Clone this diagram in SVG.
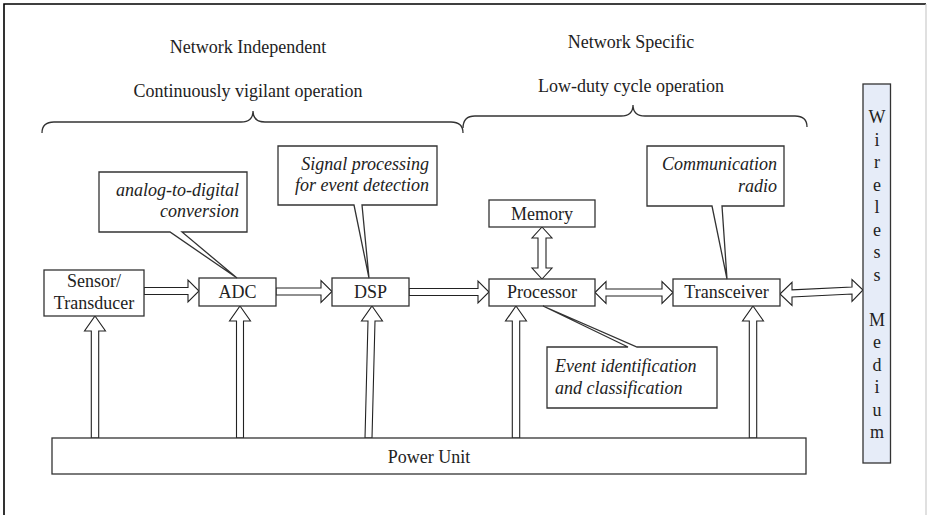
<svg xmlns="http://www.w3.org/2000/svg" width="927" height="515" viewBox="0 0 927 515">
<style>
.box{fill:#fff;stroke:#333;stroke-width:1.3}
.arr{fill:#fff;stroke:#222;stroke-width:1.1;stroke-linejoin:miter}
.t{font-family:'Liberation Serif','DejaVu Serif',serif;font-size:18px;fill:#222}
.c{text-anchor:middle}
.i{font-style:italic}
.r{text-anchor:end}
.brace{fill:none;stroke:#333;stroke-width:1.3}
</style>
<rect x="0" y="0" width="927" height="515" fill="#fff"/>
<path d="M4,515 V4 H926" fill="none" stroke="#000" stroke-width="1.6"/>
<line x1="926" y1="4" x2="926" y2="515" stroke="#ccc" stroke-width="1.2"/>

<g id="labels">
<text class="t c" x="248" y="53">Network Independent</text>
<text class="t c" x="248" y="97">Continuously vigilant operation</text>
<text class="t c" x="631" y="48">Network Specific</text>
<text class="t c" x="631" y="92">Low-duty cycle operation</text>
<path class="brace" d="M42,133 Q42,122 54,122 H241 Q253,122 253,111 Q253,122 265,122 H451 Q463,122 463,133"/>
<path class="brace" d="M463,128 Q463,116 475,116 H621 Q633,116 633,105 Q633,116 645,116 H795 Q807,116 807,127"/>
</g>

<g id="connectors">
<polygon class="arr" points="144,287.5 188,287.5 188,280 199,291 188,302 188,294.5 144,294.5"/>
<polygon class="arr" points="276,288 321,288 321,280.5 332,291.5 321,302.5 321,295 276,295"/>
<polygon class="arr" points="409,288.5 478,288.5 478,281 489,292 478,303 478,295.5 409,295.5"/>
<polygon class="arr" points="595,292.5 606,281.5 606,289 662,289 662,281.5 673,292.5 662,303.5 662,296 606,296 606,303.5"/>
<polygon class="arr" points="780,294 792,282.4 792,289.9 852,287 852,279.5 863,290 852,301.5 852,294 792,296.9 792,305.4"/>
<polygon class="arr" points="542,227 552,238 546,238 546,268 552,268 542,279 532,268 538,268 538,238 532,238"/>
<polygon class="arr" points="95,316 105.5,331 98.7,331 98.7,438 91.3,438 91.3,331 84.5,331"/>
<polygon class="arr" points="240,306 250.5,321 243.5,321 243.5,438 236.5,438 236.5,321 229.5,321"/>
<polygon class="arr" points="372,306 382.5,321 375,321 372,438 365,438 368,321 361.5,321"/>
<polygon class="arr" points="516,306 526.5,321 519.7,321 519.7,438 512.3,438 512.3,321 505.5,321"/>
<polygon class="arr" points="753,306 763.5,321 756.7,321 756.7,438 749.3,438 749.3,321 742.5,321"/>
</g>

<g id="sensor">
<rect class="box" x="44" y="270" width="100" height="46"/>
<text class="t c" x="94" y="287">Sensor/</text>
<text class="t c" x="94" y="309">Transducer</text>
</g>
<g id="adc">
<rect class="box" x="199" y="278" width="77" height="28"/>
<text class="t c" x="237.5" y="298">ADC</text>
</g>
<g id="dsp">
<rect class="box" x="332" y="278" width="77" height="28"/>
<text class="t c" x="370.5" y="298">DSP</text>
</g>
<g id="processor">
<rect class="box" x="489" y="279" width="106" height="27"/>
<text class="t c" x="542" y="298">Processor</text>
</g>
<g id="memory">
<rect class="box" x="489" y="200" width="106" height="27"/>
<text class="t c" x="542" y="220">Memory</text>
</g>
<g id="transceiver">
<rect class="box" x="673" y="279" width="107" height="27"/>
<text class="t c" x="726.5" y="298">Transceiver</text>
</g>
<g id="power-unit">
<rect class="box" x="52" y="438" width="754" height="36"/>
<text class="t c" x="429" y="463">Power Unit</text>
</g>
<g id="wireless-medium">
<rect x="863" y="84" width="27.5" height="379" fill="#e6ecf8" stroke="#333" stroke-width="1.3"/>
<text class="t c" x="877" y="123" font-size="19">W</text>
<text class="t c" x="877" y="145.5">i</text>
<text class="t c" x="877" y="168">r</text>
<text class="t c" x="877" y="190.5">e</text>
<text class="t c" x="877" y="213">l</text>
<text class="t c" x="877" y="235.5">e</text>
<text class="t c" x="877" y="258">s</text>
<text class="t c" x="877" y="280.5">s</text>
<text class="t c" x="877" y="325.5" font-size="19">M</text>
<text class="t c" x="877" y="348">e</text>
<text class="t c" x="877" y="370.5">d</text>
<text class="t c" x="877" y="393">i</text>
<text class="t c" x="877" y="415.5">u</text>
<text class="t c" x="877" y="438">m</text>
</g>

<g id="callout-adc">
<path class="box" d="M99,172 H247 V232 H182 L237,278 L170,232 H99 Z"/>
<text class="t i r" x="239" y="196">analog-to-digital</text>
<text class="t i r" x="239" y="217">conversion</text>
</g>
<g id="callout-dsp">
<path class="box" d="M278,146 H437 V205 H362 L369,278 L354,205 H278 Z"/>
<text class="t i r" x="429" y="170">Signal processing</text>
<text class="t i r" x="429" y="191">for event detection</text>
</g>
<g id="callout-radio">
<path class="box" d="M647,146 H784 V206 H722 L727,279 L712,206 H647 Z"/>
<text class="t i r" x="777" y="170">Communication</text>
<text class="t i r" x="777" y="192">radio</text>
</g>
<g id="callout-event">
<path class="box" d="M547,347 H628 L543,306 L637,347 H717 V408 H547 Z"/>
<text class="t i" x="555" y="372">Event identification</text>
<text class="t i" x="555" y="394">and classification</text>
</g>
</svg>
